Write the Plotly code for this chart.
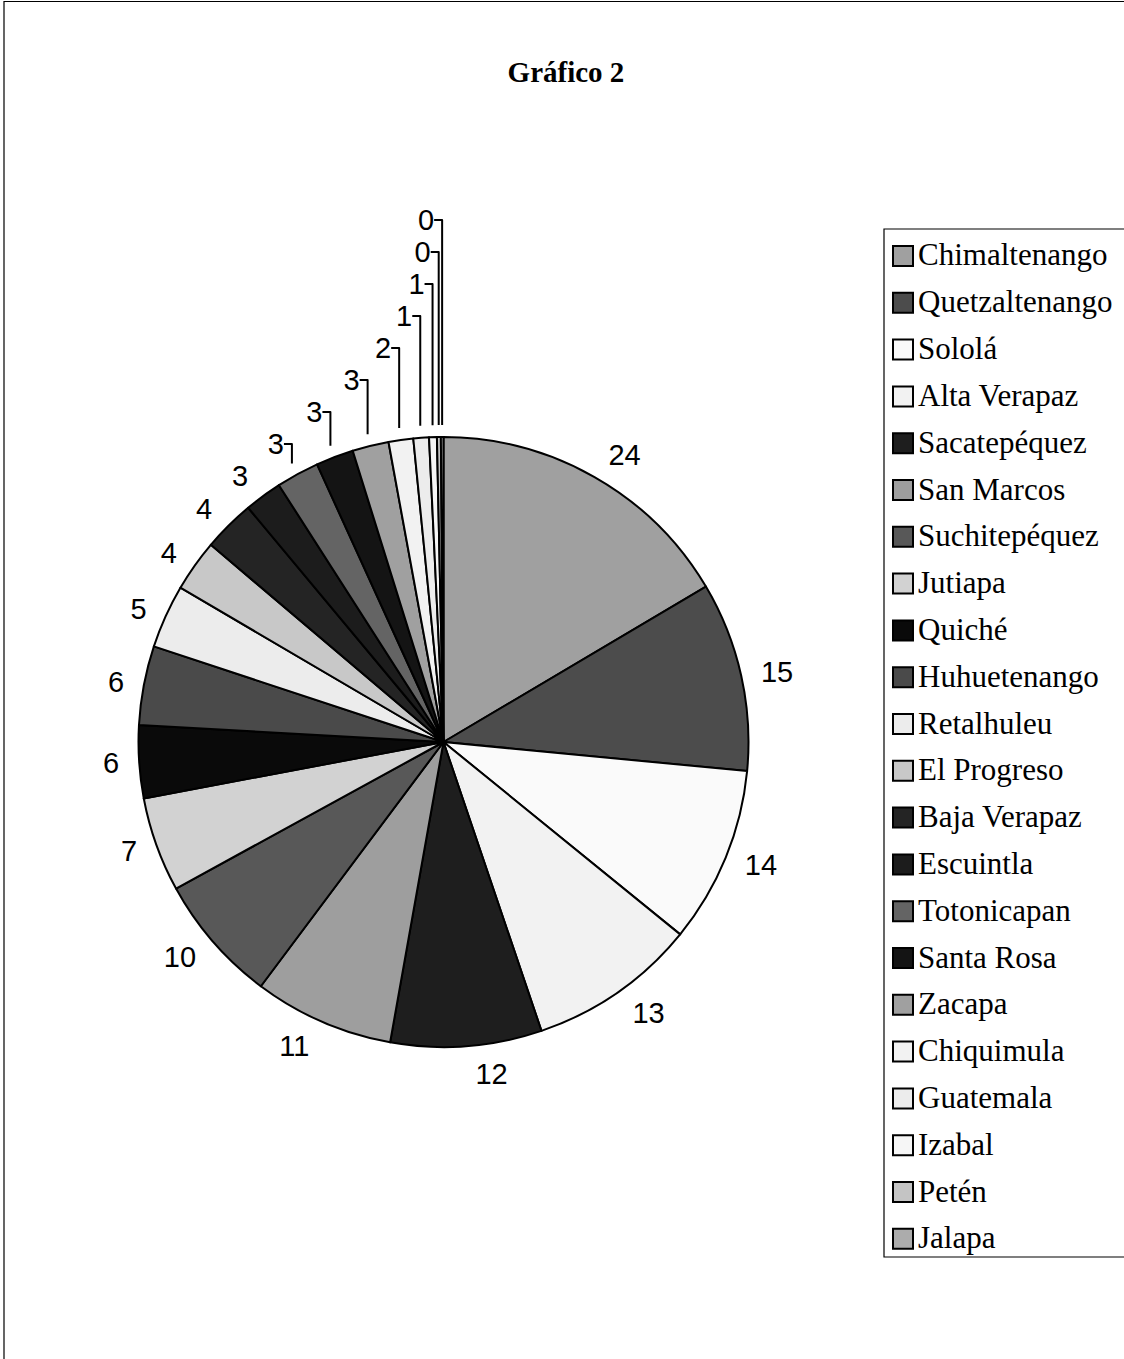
import plotly.graph_objects as go

# ---- data ----
departamentos = ["Chimaltenango", "Quetzaltenango", "Sololá", "Alta Verapaz", "Sacatepéquez",
                 "San Marcos", "Suchitepéquez", "Jutiapa", "Quiché", "Huhuetenango",
                 "Retalhuleu", "El Progreso", "Baja Verapaz", "Escuintla", "Totonicapan",
                 "Santa Rosa", "Zacapa", "Chiquimula", "Guatemala", "Izabal", "Petén", "Jalapa"]
valores = [24.0, 14.6, 13.6, 13.0, 11.65, 10.8, 9.9, 7.3, 5.6, 6.1,
           4.9, 4.0, 4.0, 2.9, 3.3, 2.9, 2.8, 1.9, 1.2, 0.6, 0.3, 0.2]
colores = ["#a0a0a0", "#4c4c4c", "#fafafa", "#f2f2f2", "#1e1e1e",
           "#9e9e9e", "#585858", "#d2d2d2", "#0a0a0a", "#4a4a4a",
           "#ececec", "#c8c8c8", "#242424", "#1c1c1c", "#646464",
           "#141414", "#a0a0a0", "#f2f2f2", "#ececec", "#f6f6f6", "#c4c4c4", "#acacac"]
titulo = "Gráfico 2"

W, H = 1124, 1359
CX, CY, R = 443.5, 742.0, 305.0      # pie centre / radius in pixels
R_LABEL = 317.0                      # radius of the (invisible) label ring

def px_x(x):
    return x / W

def px_y(y):
    return 1 - y / H

def dom(r):
    return dict(x=[px_x(CX - r), px_x(CX + r)], y=[px_y(CY + r), px_y(CY - r)])

fig = go.Figure()
# visible pie
fig.add_trace(go.Pie(
    labels=departamentos,
    values=valores,
    sort=False,
    direction="clockwise",
    rotation=0,
    marker=dict(colors=colores, line=dict(color="#000000", width=2)),
    textinfo="none",
    showlegend=False,
    hoverinfo="label+value",
    domain=dom(R),
))
# label ring (transparent) so value labels sit a bit further from the rim
fig.add_trace(go.Pie(
    labels=departamentos,
    values=valores,
    sort=False,
    direction="clockwise",
    rotation=0,
    marker=dict(colors=["rgba(0,0,0,0)"] * len(valores), line=dict(width=0)),
    textposition="outside",
    texttemplate="%{value:.0f}",
    outsidetextfont=dict(family="Liberation Sans, Arial, sans-serif", size=29, color="#000000"),
    showlegend=False,
    hoverinfo="skip",
    domain=dom(R_LABEL),
))

shapes = []
annotations = []

# outer frame
shapes.append(dict(type="rect", xref="paper", yref="paper",
                   x0=px_x(4), x1=1.02, y0=-0.02, y1=px_y(1.5),
                   line=dict(color="#000000", width=1.2), fillcolor="rgba(0,0,0,0)"))

# legend box
shapes.append(dict(type="rect", xref="paper", yref="paper",
                   x0=px_x(884), x1=1.05, y0=px_y(1257), y1=px_y(229),
                   line=dict(color="#000000", width=1.2), fillcolor="rgba(0,0,0,0)"))

y_first, step = 255.0, 46.8
for i, (lab, col) in enumerate(zip(departamentos, colores)):
    yc = y_first + i * step
    shapes.append(dict(type="rect", xref="paper", yref="paper",
                       x0=px_x(893), x1=px_x(913), y0=px_y(yc + 11), y1=px_y(yc - 9),
                       line=dict(color="#000000", width=2), fillcolor=col))
    annotations.append(dict(xref="paper", yref="paper", x=px_x(916), y=px_y(yc),
                            xanchor="left", yanchor="middle", showarrow=False, text=lab,
                            font=dict(family="Liberation Serif, Times New Roman, serif",
                                      size=31, color="#000000")))

fig.update_layout(
    width=W, height=H,
    margin=dict(l=0, r=0, t=0, b=0),
    paper_bgcolor="#ffffff",
    plot_bgcolor="#ffffff",
    title=dict(text="<b>" + titulo + "</b>", x=px_x(566), y=px_y(72),
               xanchor="center", yanchor="middle", xref="paper", yref="container",
               font=dict(family="Liberation Serif, Times New Roman, serif", size=29, color="#000000")),
    shapes=shapes,
    annotations=annotations,
)

fig.write_html("out.html")
